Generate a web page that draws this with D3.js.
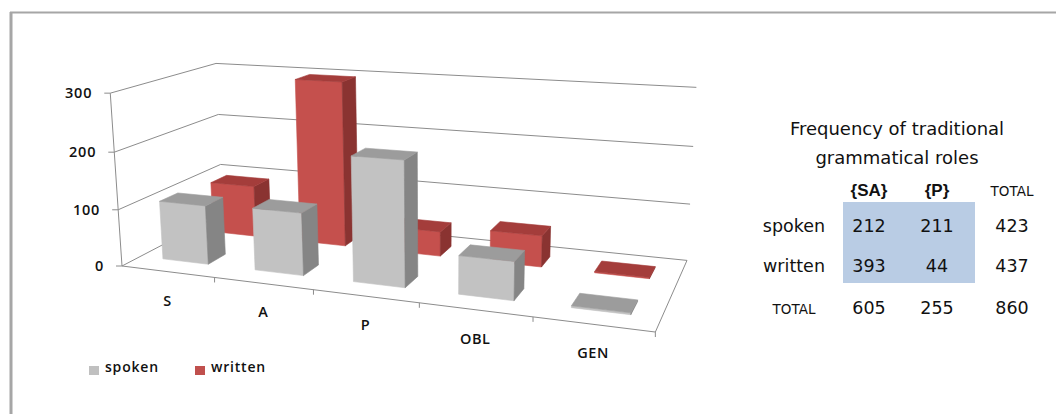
<!DOCTYPE html>
<html>
<head>
<meta charset="utf-8">
<script src="https://cdn.jsdelivr.net/npm/d3@7"></script>
<style>
  html, body { margin: 0; padding: 0; background: #ffffff; }
  svg { display: block; }
</style>
</head>
<body>
<svg id="chart" width="1056" height="414"></svg>
<script>
// ---- data ----
const categories = ["S", "A", "P", "OBL", "GEN"];
const seriesNames = ["spoken", "written"];
const spoken = [104, 108, 211, 64, 3];
const written = [95, 298, 44, 55, 2];
const valueTicks = [0, 100, 200, 300];

const tableTitle = ["Frequency of traditional", "grammatical roles"];
const tableColumns = ["{SA}", "{P}", "TOTAL"];
const tableRowLabels = ["spoken", "written", "TOTAL"];
const tableSpoken = [212, 211, 423];
const tableWritten = [393, 44, 437];
const tableTotal = [605, 255, 860];

// ---- setup ----
const svg = d3.select("#chart");
const chartFont = "'Open Sans', sans-serif";
const tableFont = "'DejaVu Sans', sans-serif";

const seriesValues = { spoken: spoken, written: written };
const palette = {
  spoken:  { front: "#c2c2c2", side: "#858585", top: "#9c9c9c", key: "#c0c0c0" },
  written: { front: "#c5504d", side: "#8a3331", top: "#a43d3b", key: "#c0504d" }
};

// normalised plot box: u = category axis, v = value axis, w = series depth
const uScale = d3.scaleBand().domain(categories).range([0, 1]).paddingInner(0.5).paddingOuter(0.25);
const wScale = d3.scaleBand().domain(seriesNames).range([0, 1]).paddingInner(0.66).paddingOuter(0.33);
const vScale = d3.scaleLinear().domain([0, 300]).range([0, 1]);

// perspective camera (homogeneous 3x4)
const cam = [
  [428.5, -15.7, 136.5, 122],
  [12.9, -176.2, -18.5, 266],
  [-0.16, -0.036, 0.16, 1]
];
function project(u, v, w) {
  const p = [u, v, w, 1];
  const d = d3.sum(cam[2].map((c, i) => c * p[i]));
  return [d3.sum(cam[0].map((c, i) => c * p[i])) / d,
          d3.sum(cam[1].map((c, i) => c * p[i])) / d];
}
const line = d3.line();

// ---- frame ----
svg.append("line").attr("x1", 10).attr("x2", 1056).attr("y1", 12.5).attr("y2", 12.5)
  .attr("stroke", "#a6a6a6").attr("stroke-width", 2);
svg.append("line").attr("x1", 11).attr("x2", 11).attr("y1", 12).attr("y2", 414)
  .attr("stroke", "#a6a6a6").attr("stroke-width", 3);

// ---- walls, gridlines, floor ----
const grid = svg.append("g").attr("fill", "none").attr("stroke", "#8c8c8c").attr("stroke-width", 1);
valueTicks.forEach(t => {
  const v = vScale(t);
  grid.append("path").attr("d", line([project(0, v, 0), project(0, v, 1), project(1, v, 1)]));
});
// floor front and right edges
grid.append("path").attr("d", line([project(0, 0, 0), project(1, 0, 0), project(1, 0, 1)]));
// value axis
grid.append("path").attr("d", line([project(0, 0, 0), project(0, 1, 0)]));
// value ticks
valueTicks.forEach(t => {
  const p = project(0, vScale(t), 0);
  grid.append("path").attr("d", line([[p[0] - 6, p[1]], p]));
});
// category ticks
d3.range(1, categories.length + 1).forEach(i => {
  const p = project(i * uScale.step(), 0, 0);
  grid.append("path").attr("d", line([p, [p[0], p[1] + 5]]));
});

// value labels
svg.append("g").selectAll("text").data(valueTicks).join("text")
  .attr("x", t => project(0, vScale(t), 0)[0] - 18)
  .attr("y", t => project(0, vScale(t), 0)[1] + 5)
  .attr("text-anchor", "end")
  .attr("font-family", chartFont).attr("font-size", 14.5).attr("font-weight", 600)
  .attr("letter-spacing", 0.8)
  .attr("fill", "#111").text(t => t);

// category labels
svg.append("g").selectAll("text").data(categories).join("text")
  .attr("x", c => project(uScale(c) + uScale.bandwidth() / 2, 0, 0)[0])
  .attr("y", c => project(uScale(c) + uScale.bandwidth() / 2, 0, 0)[1] + 34)
  .attr("text-anchor", "middle")
  .attr("font-family", chartFont).attr("font-size", 14.5).attr("font-weight", 600)
  .attr("letter-spacing", 0.5)
  .attr("fill", "#111").text(c => c);

// ---- bars (back row first, left to right) ----
const bars = svg.append("g");
["written", "spoken"].forEach(s => {
  const col = palette[s];
  categories.forEach((c, i) => {
    const u0 = uScale(c), u1 = u0 + uScale.bandwidth();
    const w0 = wScale(s), w1 = w0 + wScale.bandwidth();
    const v1 = vScale(seriesValues[s][i]);
    const g = bars.append("g").attr("stroke-width", 0.6).attr("stroke-linejoin", "round");
    const faces = [
      { pts: [[u0, 0, w0], [u1, 0, w0], [u1, v1, w0], [u0, v1, w0]], fill: col.front },
      { pts: [[u1, 0, w0], [u1, 0, w1], [u1, v1, w1], [u1, v1, w0]], fill: col.side },
      { pts: [[u0, v1, w0], [u1, v1, w0], [u1, v1, w1], [u0, v1, w1]], fill: col.top }
    ];
    faces.forEach(f => {
      g.append("path")
        .attr("d", line(f.pts.map(p => project(p[0], p[1], p[2]))) + "Z")
        .attr("fill", f.fill).attr("stroke", f.fill);
    });
  });
});

// ---- legend ----
const legend = svg.append("g").attr("font-family", chartFont).attr("font-size", 14)
  .attr("font-weight", 600).attr("letter-spacing", 0.8).attr("fill", "#111");
const legendX = [89, 195];
seriesNames.forEach((s, i) => {
  legend.append("rect").attr("x", legendX[i]).attr("y", 366).attr("width", 10).attr("height", 9)
    .attr("fill", palette[s].key);
  legend.append("text").attr("x", legendX[i] + 16).attr("y", 372).text(s);
});

// ---- frequency table ----
const tbl = svg.append("g").attr("font-family", tableFont).attr("fill", "#111");
const colX = [869, 937, 1012];
const rowLabelX = 794;
const rowY = [232, 272, 314];

tableTitle.forEach((t, i) => {
  tbl.append("text").attr("x", 897).attr("y", 135 + i * 28.5)
    .attr("text-anchor", "middle").attr("font-size", 18).text(t);
});

tbl.append("rect").attr("x", 843).attr("y", 202).attr("width", 132).attr("height", 81)
  .attr("fill", "#b9cce4");

tableColumns.forEach((c, i) => {
  const isTotal = c === "TOTAL";
  tbl.append("text").attr("x", colX[i]).attr("y", 196)
    .attr("text-anchor", "middle")
    .attr("font-family", isTotal ? tableFont : "'Liberation Sans', sans-serif")
    .attr("font-size", isTotal ? 13.5 : 17)
    .attr("font-weight", isTotal ? "normal" : "bold")
    .text(c);
});

const tableRows = [tableSpoken, tableWritten, tableTotal];
tableRowLabels.forEach((r, i) => {
  tbl.append("text").attr("x", rowLabelX).attr("y", rowY[i])
    .attr("text-anchor", "middle")
    .attr("font-size", r === "TOTAL" ? 13.5 : 17.5).text(r);
  tableRows[i].forEach((val, j) => {
    tbl.append("text").attr("x", colX[j]).attr("y", rowY[i])
      .attr("text-anchor", "middle").attr("font-size", 17.5).text(val);
  });
});
</script>
</body>
</html>
